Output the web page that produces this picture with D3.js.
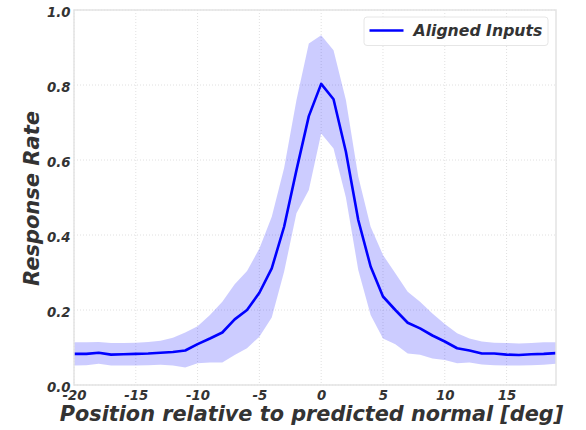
<!DOCTYPE html>
<html>
<head>
<meta charset="utf-8">
<script src="https://cdn.jsdelivr.net/npm/d3@7"></script>
<style>
  html, body { margin: 0; padding: 0; background: #fff; }
  svg { display: block; }
  text { font-family: "DejaVu Sans", sans-serif; font-weight: bold; font-style: italic; fill: #333; }
</style>
</head>
<body>
<svg id="chart" width="586" height="430"></svg>
<script>
// Offset from predicted normal, in degrees
const positions = d3.range(-20, 20);
// Mean response rate per position
const meanRate = [
  0.083, 0.083, 0.086, 0.081, 0.082, 0.083, 0.084, 0.086, 0.088, 0.092,
  0.109, 0.124, 0.140, 0.175, 0.200, 0.246, 0.311, 0.422, 0.573, 0.717,
  0.803, 0.762, 0.622, 0.440, 0.316, 0.236, 0.200, 0.166, 0.151, 0.132,
  0.116, 0.098, 0.092, 0.084, 0.084, 0.081, 0.080, 0.082, 0.083, 0.085
];
// Upper edge of the spread band
const upperRate = [
  0.114, 0.114, 0.115, 0.112, 0.112, 0.113, 0.115, 0.118, 0.126, 0.140,
  0.157, 0.187, 0.222, 0.269, 0.304, 0.364, 0.449, 0.579, 0.760, 0.911,
  0.933, 0.893, 0.760, 0.556, 0.422, 0.347, 0.298, 0.249, 0.222, 0.191,
  0.163, 0.138, 0.124, 0.116, 0.113, 0.112, 0.111, 0.112, 0.114, 0.114
];
// Lower edge of the spread band
const lowerRate = [
  0.052, 0.053, 0.057, 0.052, 0.052, 0.052, 0.053, 0.054, 0.052, 0.047,
  0.058, 0.060, 0.060, 0.080, 0.098, 0.129, 0.180, 0.302, 0.458, 0.520,
  0.671, 0.631, 0.500, 0.307, 0.187, 0.124, 0.109, 0.084, 0.081, 0.071,
  0.067, 0.058, 0.060, 0.055, 0.053, 0.052, 0.052, 0.053, 0.054, 0.057
];
const xTicks = [-20, -15, -10, -5, 0, 5, 10, 15];
const yTicks = [0.0, 0.2, 0.4, 0.6, 0.8, 1.0];
const seriesName = "Aligned Inputs";

const svg = d3.select("#chart");
const plot = { left: 74, right: 556, top: 10, bottom: 385 };

const x = d3.scaleLinear().domain([-20, 19]).range([plot.left, plot.right]);
const y = d3.scaleLinear().domain([0, 1]).range([plot.bottom, plot.top]);

// Grid
const grid = svg.append("g");
grid.selectAll("line.gx").data(xTicks).join("line")
  .attr("x1", d => x(d)).attr("x2", d => x(d))
  .attr("y1", plot.top).attr("y2", plot.bottom)
  .attr("stroke", "#d8d8d8").attr("stroke-width", 0.8).attr("stroke-dasharray", "1,2");
grid.selectAll("line.gy").data(yTicks).join("line")
  .attr("x1", plot.left).attr("x2", plot.right)
  .attr("y1", d => y(d)).attr("y2", d => y(d))
  .attr("stroke", "#d8d8d8").attr("stroke-width", 0.8).attr("stroke-dasharray", "1,2");

// Spread band
const band = d3.area()
  .x((d, i) => x(positions[i]))
  .y0((d, i) => y(lowerRate[i]))
  .y1((d, i) => y(upperRate[i]));
svg.append("path").datum(meanRate).attr("d", band)
  .attr("fill", "#0000ff").attr("fill-opacity", 0.2);

// Mean line
const line = d3.line().x((d, i) => x(positions[i])).y(d => y(d));
svg.append("path").datum(meanRate).attr("d", line)
  .attr("fill", "none").attr("stroke", "#0000ff").attr("stroke-width", 2.6)
  .attr("stroke-linejoin", "round");

// Frame
svg.append("rect")
  .attr("x", plot.left).attr("y", plot.top)
  .attr("width", plot.right - plot.left).attr("height", plot.bottom - plot.top)
  .attr("fill", "none").attr("stroke", "#e3e3e3").attr("stroke-width", 1.5);

// Axes (plain hyphen for negative ticks)
const xAxis = svg.append("g").attr("transform", `translate(0,${plot.bottom})`)
  .call(d3.axisBottom(x).tickValues(xTicks).tickSize(0).tickFormat(d => String(d)));
const yAxis = svg.append("g").attr("transform", `translate(${plot.left},0)`)
  .call(d3.axisLeft(y).tickValues(yTicks).tickSize(0).tickPadding(3.5).tickFormat(d => d.toFixed(1)));
[xAxis, yAxis].forEach(a => {
  a.select(".domain").remove();
  a.selectAll("text").attr("font-size", 13.3).attr("fill", "#333")
    .style("font-family", "DejaVu Sans").style("font-weight", "bold").style("font-style", "italic");
});
xAxis.selectAll("text").attr("y", 15).attr("dy", null);
yAxis.selectAll("text").attr("dy", "0.45em");

// Axis titles
svg.append("text").attr("x", 311.5).attr("y", 421)
  .attr("text-anchor", "middle").attr("font-size", 20.8)
  .text("Position relative to predicted normal [deg]");
svg.append("text").attr("transform", `translate(39,198.5) rotate(-90)`)
  .attr("text-anchor", "middle").attr("font-size", 21)
  .text("Response Rate");

// Legend
const lg = svg.append("g");
lg.append("rect").attr("x", 364).attr("y", 17).attr("width", 184).attr("height", 28.5)
  .attr("rx", 3).attr("fill", "#fff").attr("fill-opacity", 0.85)
  .attr("stroke", "#e6e6e6").attr("stroke-width", 1);
lg.append("line").attr("x1", 369.5).attr("x2", 403.5).attr("y1", 30.5).attr("y2", 30.5)
  .attr("stroke", "#0000ff").attr("stroke-width", 2.6);
lg.append("text").attr("x", 413.5).attr("y", 36).attr("font-size", 15.7).text(seriesName);
</script>
</body>
</html>
